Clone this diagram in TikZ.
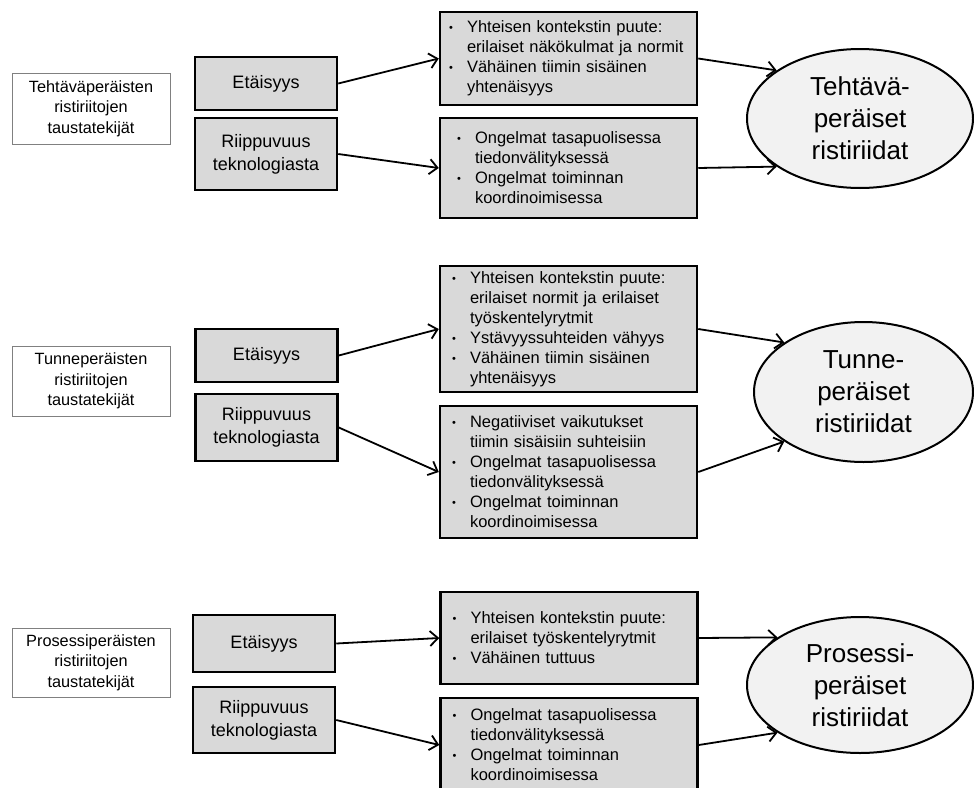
\documentclass[tikz,border=0pt]{standalone}
\usepackage{fontspec}
\setmainfont{Liberation Sans}
\usetikzlibrary{shapes.geometric,arrows.meta}
\newcommand{\bpt}{\makebox[18pt][l]{\raisebox{1pt}{\fontsize{11}{11}\selectfont\textbullet}}}
\newcommand{\bind}{\hspace*{18pt}}
\begin{document}
\begin{tikzpicture}[x=1pt, y=-1pt,
  tausta/.style={draw=black!50, line width=0.9pt, fill=white, align=center, minimum width=158pt, inner sep=0pt, font=\fontsize{16.3}{20.7}\selectfont},
  syy/.style={draw, line width=2.5pt, fill=black!15, align=center, minimum width=142pt, inner sep=0pt, font=\fontsize{18}{22.7}\selectfont},
  seur/.style={draw, line width=2.5pt, fill=black!15, align=left, minimum width=257pt, inner sep=0pt, text width=#1, font=\fontsize{16.5}{20}\selectfont},
  rist/.style={ellipse, draw, line width=2pt, fill=black!5, align=center, inner sep=0pt, font=\fontsize{26}{32}\selectfont},
  conn/.style={->, line width=1.8pt},
  >={Straight Barb[length=8pt,width=15pt]}]
\useasboundingbox (0,0) rectangle (974,787);
% nodes: tehtävä
\node[tausta, minimum height=71pt] (t1) at (91, 108.5) {Tehtäväperäisten\\ristiriitojen\\taustatekijät};
\node[syy, minimum height=53pt] (e1) at (266, 83.5) {Etäisyys};
\node[syy, minimum height=72pt] (r1) at (266, 154) {Riippuvuus\\teknologiasta};
\node[seur=239pt, minimum height=93pt] (m1a) at (568.5, 58.5) {\bpt Yhteisen kontekstin puute:\\ \bind erilaiset näkökulmat ja normit\\ \bpt Vähäinen tiimin sisäinen\\ \bind yhtenäisyys};
\node[seur=223pt, minimum height=100pt] (m1b) at (568.5, 168) {\bpt Ongelmat tasapuolisessa\\ \bind tiedonvälityksessä\\ \bpt Ongelmat toiminnan\\ \bind koordinoimisessa};
\node[rist, minimum width=226pt, minimum height=139pt] (c1) at (860, 118.5) {Tehtävä-\\peräiset\\ristiriidat};
% nodes: tunne
\node[tausta, minimum height=70pt] (t2) at (91, 381) {Tunneperäisten\\ristiriitojen\\taustatekijät};
\node[syy, minimum height=53pt] (e2) at (266.5, 355.5) {Etäisyys};
\node[syy, minimum height=67pt] (r2) at (266.5, 427.5) {Riippuvuus\\teknologiasta};
\node[seur=233pt, minimum height=126pt] (m2a) at (568.5, 329) {\bpt Yhteisen kontekstin puute:\\ \bind erilaiset normit ja erilaiset\\ \bind työskentelyrytmit\\ \bpt Ystävyyssuhteiden vähyys\\ \bpt Vähäinen tiimin sisäinen\\ \bind yhtenäisyys};
\node[seur=233pt, minimum height=132pt] (m2b) at (568.5, 472) {\bpt Negatiiviset vaikutukset\\ \bind tiimin sisäisiin suhteisiin\\ \bpt Ongelmat tasapuolisessa\\ \bind tiedonvälityksessä\\ \bpt Ongelmat toiminnan\\ \bind koordinoimisessa};
\node[rist, minimum width=219pt, minimum height=140pt] (c2) at (863.5, 392) {Tunne-\\peräiset\\ristiriidat};
% nodes: prosessi
\node[tausta, minimum height=69pt] (t3) at (91, 662.5) {Prosessiperäisten\\ristiriitojen\\taustatekijät};
\node[syy, minimum height=57pt] (e3) at (264, 643.5) {Etäisyys};
\node[syy, minimum height=66pt] (r3) at (264, 720) {Riippuvuus\\teknologiasta};
\node[seur=233pt, minimum height=92pt] (m3a) at (569, 638) {\bpt Yhteisen kontekstin puute:\\ \bind erilaiset työskentelyrytmit\\ \bpt Vähäinen tuttuus};
\node[seur=233pt, minimum height=94pt] (m3b) at (569, 745) {\bpt Ongelmat tasapuolisessa\\ \bind tiedonvälityksessä\\ \bpt Ongelmat toiminnan\\ \bind koordinoimisessa};
\node[rist, minimum width=226pt, minimum height=136pt] (c3) at (860, 685) {Prosessi-\\peräiset\\ristiriidat};
% arrows
\draw[conn] (e1.east) -- (m1a.west);
\draw[conn] (r1.east) -- (m1b.west);
\draw[conn] (m1a.east) -- (c1.150);
\draw[conn] (m1b.east) -- (c1.210);
\draw[conn] (e2.east) -- (m2a.west);
\draw[conn] (r2.east) -- (m2b.west);
\draw[conn] (m2a.east) -- (c2.148);
\draw[conn] (m2b.east) -- (c2.212);
\draw[conn] (e3.east) -- (m3a.west);
\draw[conn] (r3.east) -- (m3b.west);
\draw[conn] (m3a.east) -- (c3.150);
\draw[conn] (m3b.east) -- (c3.210);
\end{tikzpicture}
\end{document}
